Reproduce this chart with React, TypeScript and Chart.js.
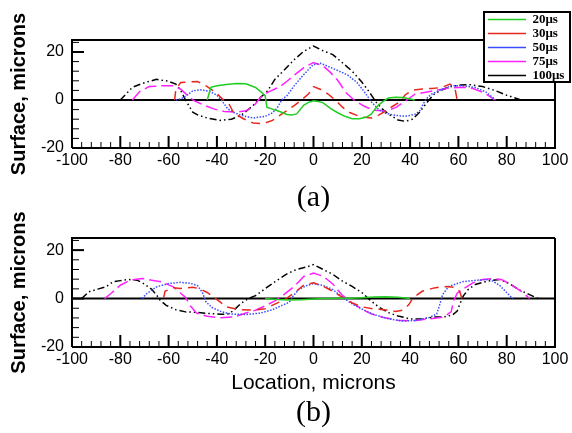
import React, { useEffect, useRef } from 'react';
import { Chart, registerables } from 'chart.js';

Chart.register(...registerables);

// ---------- data ----------
const seriesLabels = ['20μs', '30μs', '50μs', '75μs', '100μs'];
const xTickStep = 4;
const yTickStep = 4;
const xMin = -100;
const xMax = 100;
const yMin = -20;
const yMax = 25;

// (a)
const a20X = [-44, -42.5, -40, -36, -32, -28, -24, -21.5, -20, -19.3, -17, -14, -11, -9, -7, -4, -2, 0, 2, 4, 7, 10, 13, 16, 19, 22, 24, 25.5, 27, 29, 31, 34, 37, 40, 42];
const a20Y = [0, 5.3, 5.9, 6.5, 6.9, 6.8, 5.2, 3.2, 1.7, -3, -3.8, -4.8, -6, -6.2, -5.8, -2.1, -1, -0.3, -0.6, -1.2, -3.5, -5.3, -6.8, -7.8, -7.8, -7.1, -5.8, -3.7, -2, -0.5, 0.8, 1.1, 1, 0.4, 0];
const a30X = [-57.5, -57, -55, -52, -48, -44, -40, -37, -35, -33, -29, -25, -21, -17, -14, -11, -8, -5, -2, 0, 3, 6, 9, 12, 15, 18, 21, 24, 27, 30, 33, 36, 38, 41, 45, 49, 53, 56.5, 58.5, 59.5];
const a30Y = [0, 4.5, 7.3, 7.5, 7.7, 5.6, 2.7, -0.3, -1.6, -5.5, -7.8, -9.6, -9.9, -8.5, -6.4, -4.4, -2.3, 0, 2.6, 5.6, 4.4, 2.5, 0, -3, -5.2, -6.4, -7.2, -7.5, -6.3, -4.5, -2.5, -0.5, 2.2, 4.1, 4.6, 4.8, 5.2, 6.6, 5.2, 0];
const a50X = [-57, -55, -53, -50, -47, -43, -40, -38, -37, -35.5, -33, -30, -25, -20, -17, -15, -13, -11, -8, -5, -2, 0, 3, 6, 10, 14, 18, 21, 24, 27, 30, 34, 38, 42, 44, 45.3, 46.5, 49, 53, 57, 62, 67, 71.5, 74, 75.5];
const a50Y = [0, 0.5, 1.5, 3.8, 4.3, 3.6, 2, -0.3, -1.6, -3.7, -5.2, -6.4, -7.5, -6.8, -5.4, -3.2, 0.2, 1.8, 5.9, 9.5, 12.8, 14.8, 15.3, 14, 12.3, 10.5, 7.3, 3.5, -0.8, -4, -5.6, -6.4, -6.8, -6, -4.5, -2, 0.3, 2.5, 4.4, 5.9, 5.9, 5.2, 3.3, 1.2, 0];
const a75X = [-75, -72, -68, -63, -58, -55, -52, -49.5, -45, -41, -37, -32, -28, -25, -22, -19, -14, -11, -8, -4, 0, 4, 7, 10, 13.5, 17, 21, 25, 30, 34, 38, 42, 47, 52, 57, 62, 66, 70, 73, 75];
const a75Y = [0, 3.5, 5.6, 5.9, 5.9, 4.5, 1.8, -0.3, -2.3, -3.8, -4.8, -5.1, -4.5, -2.8, 1, 3.2, 5.5, 7.8, 10.3, 13.5, 15.6, 14.2, 11.5, 8.2, 3, -0.2, -2.6, -4.3, -4.6, -3.2, -0.5, 2.4, 3.3, 4.3, 5.1, 5.3, 4.8, 3.3, 1.5, 0];
const a100X = [-80, -75, -70, -65, -60, -57, -55, -53, -50, -48, -44, -39, -34, -30, -25, -22, -19, -16, -12, -8, -4, 0, 4, 8, 12, 16, 20, 23, 26, 29, 32, 35, 38, 41, 44, 47, 50, 53, 57, 61, 65, 70, 75, 80, 86];
const a100Y = [0, 5.3, 7.2, 8.6, 7.8, 6.6, 4, 0, -5.1, -6.2, -7.5, -8.5, -8, -6.4, -2.3, 1, 3.8, 8.6, 12.6, 16.8, 20.3, 22.5, 20.5, 18.9, 15.5, 12, 7.5, 3.5, -1, -4.2, -6.5, -8.3, -8.9, -8, -5, -1, 2.5, 4.2, 5.6, 6.2, 6.4, 5.6, 4, 2, 0];

// (b)
const b20X = [-20, -15, -10, -5, 0, 5, 10, 15, 20, 25, 30, 35, 40];
const b20Y = [0, -0.4, -0.6, -0.5, -0.2, 0, 0.1, 0.1, 0.3, 0.6, 0.7, 0.5, 0];
const b30X = [-62, -61.5, -58, -55, -50, -47, -44, -41.5, -39, -36, -31, -25, -20, -16, -12, -8, -4, 0, 4, 8, 12, 16, 20, 25, 30, 34, 37, 39.5, 41.2, 45, 50, 55, 58.5, 60.5, 61.5];
const b30Y = [0.5, 3, 4.5, 4.2, 4.7, 4, 2.5, 0.7, -1.2, -3.4, -4.6, -4.8, -4.2, -2.3, -0.5, 2.3, 5.6, 6.5, 5.1, 3, 0.5, -1.8, -3.4, -4.3, -4.7, -5.3, -4.8, -2.5, 0.3, 3, 4.4, 5, 4.6, 3, 0];
const b50X = [-71, -69, -65, -60, -55, -51, -48, -46, -44.5, -42, -38, -34, -28, -22, -17, -13.5, -11, -9.5, -8.5, -6, -3, 0, 4, 8, 12, 16, 20, 25, 31, 37, 43, 48, 51, 52.3, 53.5, 56, 62, 68, 73, 77, 80, 82.5];
const b50Y = [0, 2.1, 4.8, 6.2, 6.7, 6.3, 5.3, 2.5, -1.4, -3.7, -5.5, -6.4, -6.6, -6, -4.6, -3, -2, -1, 1, 3.8, 5.3, 6.2, 5.4, 3.7, 0.5, -2.2, -4.3, -6.6, -8.3, -9.3, -9, -7.8, -6.4, -2.5, 1.7, 5, 7, 7.6, 7.9, 5.5, 2.5, 0];
const b75X = [-86.5, -84, -80, -76, -71, -67, -63, -58, -55, -53, -51, -48.5, -44, -39, -33, -28, -24, -20, -16, -12, -8, -4, 0, 4, 8, 12, 16, 20, 24, 29, 35, 41, 47, 54, 57, 58, 59.5, 62, 66, 70, 74, 78, 82, 86, 89.5];
const b75Y = [0, 2, 5.5, 7.6, 8.3, 7.6, 6.9, 4.8, 2.2, 0.5, -3, -6, -7.3, -7.9, -7.6, -6, -4.8, -3, -1, 1.8, 5, 9.1, 10.5, 9.2, 6, 1.3, -1.8, -4.3, -6.4, -7.8, -9, -9.2, -8.5, -7.6, -5.5, -1, 2.2, 4, 6.5, 7.9, 8.2, 7.8, 5.6, 3, 0];
const b100X = [-96, -93, -89, -86, -83, -80, -77, -73, -70, -67, -65, -63.5, -61, -57, -53, -48, -43, -38, -35, -33, -30, -27, -24, -19, -15, -11, -7, -3, 0, 4, 8, 12, 16, 20, 23, 27, 31, 35, 40, 45, 50, 54, 57.5, 59.5, 60.5, 62, 64, 67, 72, 77, 81, 85, 89, 93];
const b100Y = [0, 2.8, 4, 4.8, 6.9, 7.4, 7.9, 7.6, 6, 3.8, 1.5, -0.7, -2.8, -4.6, -5.5, -5.7, -6.2, -6.5, -6.3, -4.8, -2, 0, 1.2, 4.8, 7.6, 10.2, 12, 13, 14, 12, 10, 7.2, 5, 2.5, -0.3, -3.5, -5.8, -7.2, -8.4, -8.4, -7.6, -7.6, -6.8, -5.2, -2.5, 1, 3.7, 5.8, 7.2, 7.9, 6.2, 3.7, 1.8, 0];

// ---------- styles ----------
const seriesColors = ['#22cc22', '#e8281e', '#3a4cff', '#ff22ff', '#000000'];
const seriesDash: number[][] = [[], [9, 6], [1.5, 1.5], [12, 5], [7, 3, 1.5, 3, 1.5, 3]];

const zip = (xs: number[], ys: number[]) => xs.map((x, i) => ({ x, y: ys[i] }));

type Box = { left: number; top: number; right: number; bottom: number };

function makeFramePlugin(legendBox: Box | null) {
  return {
    id: 'frameTicks',
    beforeDraw(chart: any) {
      const { ctx, chartArea: ca, scales } = chart;
      const xs = scales.x;
      const ys = scales.y;
      ctx.save();
      ctx.strokeStyle = '#000';
      ctx.lineCap = 'butt';
      // zero reference line
      const y0 = ys.getPixelForValue(0);
      ctx.lineWidth = 2;
      ctx.beginPath();
      ctx.moveTo(ca.left, y0);
      ctx.lineTo(ca.right, y0);
      ctx.stroke();
      // x ticks (inward from bottom)
      for (const t of xs.ticks) {
        const px = xs.getPixelForValue(t.value);
        const major = Math.round(t.value) % 20 === 0;
        ctx.lineWidth = major ? 2 : 1;
        ctx.beginPath();
        ctx.moveTo(px, ca.bottom);
        ctx.lineTo(px, ca.bottom - (major ? 12 : 6));
        ctx.stroke();
      }
      // y ticks (inward from left)
      for (const t of ys.ticks) {
        const py = ys.getPixelForValue(t.value);
        const major = Math.round(t.value) % 20 === 0;
        ctx.lineWidth = major ? 2 : 1;
        ctx.beginPath();
        ctx.moveTo(ca.left, py);
        ctx.lineTo(ca.left + (major ? 12 : 7), py);
        ctx.stroke();
      }
      // frame
      ctx.lineWidth = 2;
      ctx.beginPath();
      ctx.moveTo(ca.left, ca.bottom);
      ctx.lineTo(ca.left, ca.top);
      ctx.lineTo(legendBox ? legendBox.left : ca.right, ca.top);
      ctx.moveTo(ca.right, legendBox ? legendBox.bottom : ca.top);
      ctx.lineTo(ca.right, ca.bottom);
      ctx.lineTo(ca.left, ca.bottom);
      ctx.stroke();
      if (legendBox && chart.legend) {
        ctx.strokeRect(legendBox.left, legendBox.top, legendBox.right - legendBox.left, legendBox.bottom - legendBox.top);
        const L = chart.legend;
        L.left = legendBox.left + 3;
        L.top = legendBox.top;
        L.right = legendBox.right;
        L.bottom = legendBox.bottom + 100;
      }
      ctx.restore();
    },
  };
}

function buildConfig(which: 'a' | 'b'): any {
  const sets = which === 'a'
    ? [zip(a20X, a20Y), zip(a30X, a30Y), zip(a50X, a50Y), zip(a75X, a75Y), zip(a100X, a100Y)]
    : [zip(b20X, b20Y), zip(b30X, b30Y), zip(b50X, b50Y), zip(b75X, b75Y), zip(b100X, b100Y)];
  const isA = which === 'a';
  return {
    type: 'line',
    data: {
      datasets: sets.map((d, i) => ({
        label: seriesLabels[i],
        data: d,
        borderColor: seriesColors[i],
        backgroundColor: seriesColors[i],
        borderDash: seriesDash[i],
        borderWidth: 1.5,
        pointRadius: 0,
        tension: 0,
        fill: false,
      })),
    },
    options: {
      animation: false,
      responsive: true,
      maintainAspectRatio: false,
      events: [],
      layout: { padding: isA ? { left: 0, right: 17, top: 40, bottom: 2 } : { left: 0, right: 17, top: 38, bottom: 5 } },
      scales: {
        x: {
          type: 'linear',
          min: xMin,
          max: xMax,
          afterFit: (s: any) => { s.height = isA ? 35 : 51; },
          border: { display: false },
          grid: { display: false, drawTicks: false },
          ticks: {
            stepSize: xTickStep,
            autoSkip: false,
            maxRotation: 0,
            minRotation: 0,
            padding: 3,
            color: '#000',
            font: { family: 'Liberation Sans', size: 16 },
            callback: (v: number) => (Math.round(v) % 20 === 0 ? String(Math.round(v)) : ''),
          },
          title: {
            display: !isA,
            text: 'Location, microns',
            color: '#000',
            font: { family: 'Liberation Sans', size: 21 },
            padding: { top: 0, bottom: 2 },
          },
        },
        y: {
          type: 'linear',
          min: yMin,
          max: yMax,
          afterFit: (s: any) => { s.width = 72; },
          border: { display: false },
          grid: { display: false, drawTicks: false },
          ticks: {
            stepSize: yTickStep,
            includeBounds: false,
            autoSkip: false,
            padding: 8,
            color: '#000',
            font: { family: 'Liberation Sans', size: 16 },
            callback: (v: number) => (Math.round(v) % 20 === 0 ? String(Math.round(v)) : ''),
          },
          title: {
            display: true,
            text: 'Surface, microns',
            color: '#000',
            font: { family: 'Liberation Sans', size: 20, weight: 'bold' },
            padding: { top: 7, bottom: 0 },
          },
        },
      },
      plugins: {
        tooltip: { enabled: false },
        title: {
          display: true,
          text: isA ? '(a)' : '(b)',
          position: 'bottom',
          fullSize: false,
          color: '#000',
          font: { family: 'Liberation Serif', size: 30, weight: 'normal', lineHeight: 1 },
          padding: 0,
        },
        legend: {
          display: isA,
          position: 'chartArea',
          align: 'start',
          labels: {
            usePointStyle: true,
            pointStyle: 'line',
            pointStyleWidth: 38,
            padding: 1,
            textAlign: 'left',
            color: '#000',
            font: { family: 'Liberation Serif', size: 13, weight: 'bold' },
          },
        },
      },
    },
    plugins: [makeFramePlugin(isA ? { left: 484, top: 12, right: 570, bottom: 82 } : null)],
  };
}

export default function App() {
  const topRef = useRef<HTMLCanvasElement>(null);
  const botRef = useRef<HTMLCanvasElement>(null);
  useEffect(() => {
    const c1 = new Chart(topRef.current as HTMLCanvasElement, buildConfig('a'));
    const c2 = new Chart(botRef.current as HTMLCanvasElement, buildConfig('b'));
    return () => {
      c1.destroy();
      c2.destroy();
    };
  }, []);
  return (
    <div style={{ position: 'fixed', left: 0, top: 0, width: 572, height: 433, background: '#fff' }}>
      <div style={{ position: 'absolute', left: 0, top: 0, width: 572, height: 215 }}>
        <canvas ref={topRef} />
      </div>
      <div style={{ position: 'absolute', left: 0, top: 200, width: 572, height: 233 }}>
        <canvas ref={botRef} />
      </div>
    </div>
  );
}
